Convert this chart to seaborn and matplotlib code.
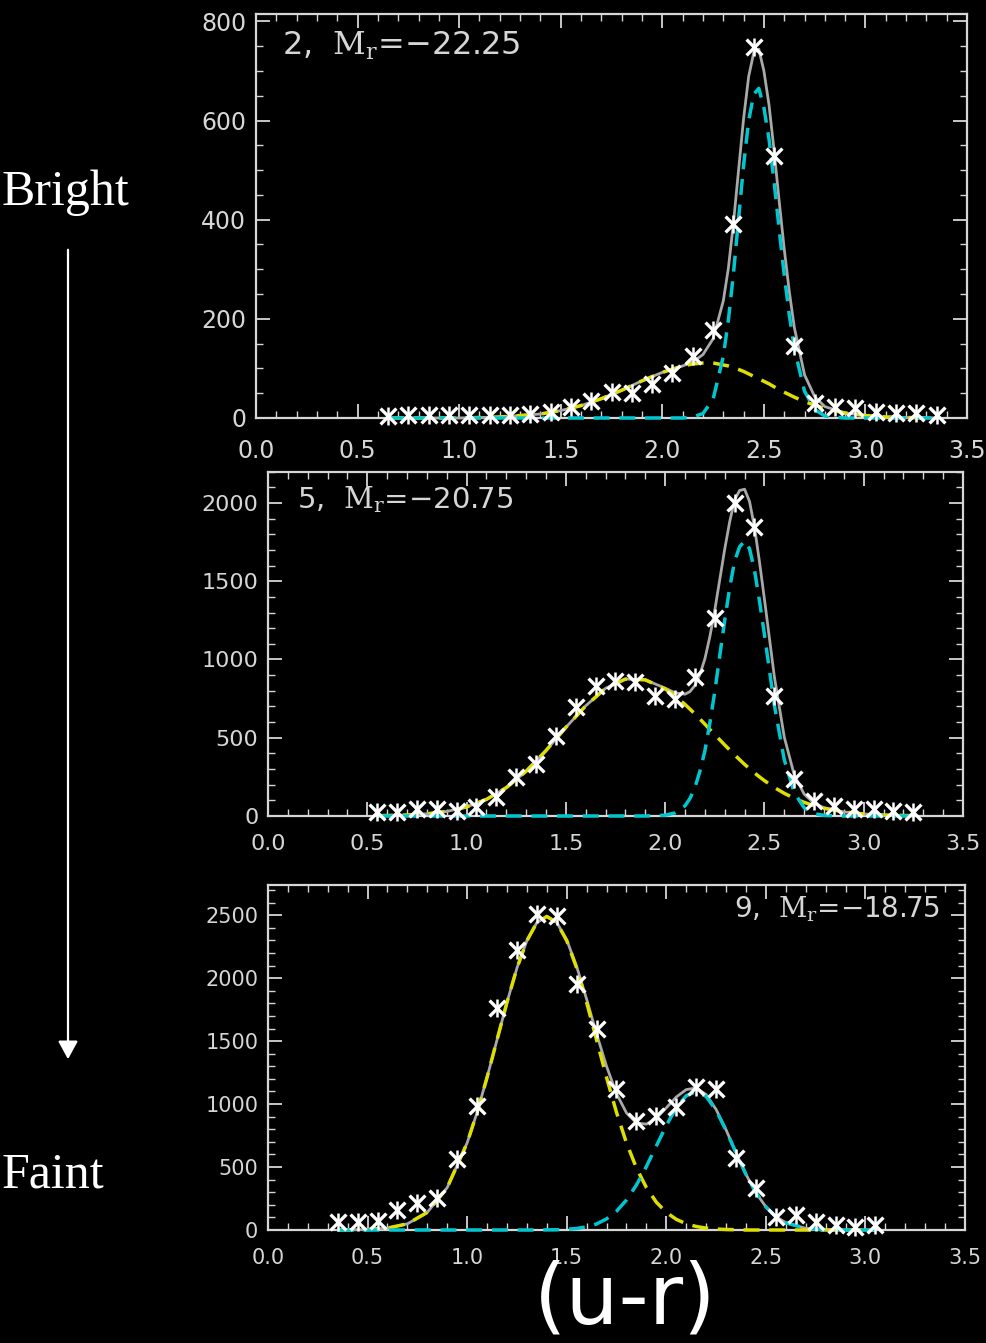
import matplotlib
matplotlib.use("Agg")
import matplotlib.pyplot as plt
import seaborn as sns
from matplotlib.ticker import MultipleLocator, FormatStrFormatter
from matplotlib.patches import FancyArrowPatch

# ---------------- data ----------------
# Panel 1 : 2, Mr = -22.25
x_top_pts = [0.65, 0.75, 0.85, 0.95, 1.05, 1.15, 1.25, 1.35, 1.45, 1.55, 1.65, 1.75, 1.85, 1.95,
             2.05, 2.15, 2.25, 2.35, 2.45, 2.55, 2.65, 2.75, 2.85, 2.95, 3.05, 3.15, 3.25, 3.35]
y_top_pts = [5, 6, 6, 6, 6, 6, 6, 8, 12, 22, 34, 53, 50, 69,
             91, 125, 178, 391, 748, 529, 145, 31, 23, 20, 13, 10, 10, 6]
x_top_fit = [0.65, 0.8, 1.0, 1.2, 1.4, 1.5, 1.6, 1.7, 1.8, 1.9, 2.0, 2.1, 2.15, 2.2, 2.25,
             2.3, 2.325, 2.35, 2.375, 2.4, 2.425, 2.45, 2.475, 2.5, 2.525, 2.55, 2.575, 2.6,
             2.625, 2.65, 2.7, 2.75, 2.8, 2.9, 3.0, 3.1, 3.2, 3.35]
gray_top = [0, 0, 0, 2, 8, 15, 25, 39, 56, 75, 92, 105, 113, 128, 160,
            236, 302, 393, 499, 604, 689, 737, 744, 700, 632, 540, 438, 341,
            255, 182, 87, 43, 23, 10, 5, 2, 1, 0]
yellow_top = [0, 0, 0, 2, 8, 15, 25, 39, 56, 75, 92, 105, 109, 111, 111,
              107, 105, 102, 98, 94, 89, 84, 79, 74, 69, 63, 57, 52,
              47, 42, 33, 26, 19, 10, 5, 2, 1, 0]
cyan_top = [0, 0, 0, 0, 0, 0, 0, 0, 0, 0, 0, 0, 2, 9, 38,
            124, 197, 291, 401, 510, 600, 653, 665, 626, 563, 477, 381, 289,
            208, 140, 54, 17, 4, 0, 0, 0, 0, 0]

# Panel 2 : 5, Mr = -20.75
x_mid_pts = [0.55, 0.65, 0.75, 0.85, 0.95, 1.05, 1.15, 1.25, 1.35, 1.45, 1.55, 1.65, 1.75, 1.85,
             1.95, 2.05, 2.15, 2.25, 2.35, 2.45, 2.55, 2.65, 2.75, 2.85, 2.95, 3.05, 3.15, 3.25]
y_mid_pts = [25, 25, 45, 45, 32, 57, 121, 248, 331, 510, 694, 828, 860, 854,
             764, 745, 885, 1268, 2000, 1847, 765, 236, 96, 64, 45, 45, 32, 25]
x_mid_fit = [0.55, 0.7, 0.8, 0.9, 1.0, 1.1, 1.2, 1.3, 1.4, 1.5, 1.6, 1.7, 1.8, 1.9, 2.0,
             2.05, 2.1, 2.125, 2.15, 2.175, 2.2, 2.225, 2.25, 2.275, 2.3, 2.325, 2.35, 2.375,
             2.4, 2.425, 2.45, 2.475, 2.5, 2.55, 2.6, 2.65,
             2.7, 2.75, 2.8, 2.9, 3.0, 3.1, 3.25]
gray_mid = [2, 6, 14, 29, 58, 106, 181, 286, 418, 566, 704, 816, 875, 870, 817,
            787, 778, 795, 834, 905, 1003, 1145, 1315, 1510, 1705, 1880, 2020, 2080,
            2088, 2010, 1845, 1625, 1386, 890, 504, 263,
            140, 81, 53, 26, 13, 6, 2]
yellow_mid = [2, 6, 14, 29, 58, 106, 181, 286, 418, 566, 704, 816, 875, 870, 812,
              767, 713, 683, 652, 620, 587, 553, 520, 487, 454, 422, 390, 360,
              330, 302, 275, 250, 226, 182, 145, 113,
              87, 66, 49, 26, 13, 6, 2]
cyan_mid = [0, 0, 0, 0, 0, 0, 0, 0, 0, 0, 0, 0, 0, 0, 5,
            20, 65, 112, 182, 285, 416, 592, 795, 1023, 1251, 1458, 1630, 1720,
            1758, 1708, 1570, 1375, 1160, 708, 359, 150,
            53, 15, 4, 0, 0, 0, 0]

# Panel 3 : 9, Mr = -18.75
x_bot_pts = [0.35, 0.45, 0.55, 0.65, 0.75, 0.85, 0.95, 1.05, 1.15, 1.25, 1.35, 1.45, 1.55, 1.65,
             1.75, 1.85, 1.95, 2.05, 2.15, 2.25, 2.35, 2.45, 2.55, 2.65, 2.75, 2.85, 2.95, 3.05]
y_bot_pts = [60, 60, 75, 160, 215, 255, 560, 985, 1760, 2220, 2510, 2490, 1955, 1600,
             1120, 865, 905, 975, 1135, 1120, 575, 335, 105, 120, 65, 40, 25, 40]
x_bot_fit = [0.35, 0.5, 0.6, 0.7, 0.8, 0.9, 1.0, 1.05, 1.1, 1.15, 1.2, 1.25, 1.3, 1.35, 1.4,
             1.45, 1.5, 1.55, 1.6, 1.65, 1.7, 1.75, 1.8, 1.85, 1.9, 1.95, 2.0, 2.05, 2.1,
             2.15, 2.2, 2.25, 2.3, 2.35, 2.4, 2.45, 2.5, 2.55, 2.6, 2.7, 2.8, 2.9, 3.05]
gray_bot = [0, 4, 15, 49, 140, 337, 692, 934, 1212, 1510, 1808, 2080, 2298, 2441, 2491,
            2443, 2304, 2092, 1833, 1558, 1300, 1083, 930, 850, 841, 888, 970, 1056, 1115,
            1128, 1076, 958, 796, 615, 442, 296, 184, 107, 58, 13, 2, 0, 0]
yellow_bot = [0, 4, 15, 49, 140, 337, 692, 934, 1212, 1510, 1808, 2080, 2298, 2441, 2490,
              2441, 2298, 2080, 1808, 1510, 1212, 934, 692, 493, 337, 221, 140, 85, 49,
              28, 15, 8, 4, 2, 0, 0, 0, 0, 0, 0, 0, 0, 0]
cyan_bot = [0, 0, 0, 0, 0, 0, 0, 0, 0, 0, 0, 0, 0, 0, 1,
            2, 6, 12, 25, 48, 88, 149, 238, 357, 504, 667, 830, 971, 1066,
            1100, 1061, 950, 792, 613, 442, 296, 184, 107, 58, 13, 2, 0, 0]

panel_labels = ["2,  $\\mathrm{M_r}$=\u221222.25", "5,  $\\mathrm{M_r}$=\u221220.75",
                "9,  $\\mathrm{M_r}$=\u221218.75"]

# ---------------- style ----------------
sns.set_style("ticks")
plt.rcParams["font.family"] = ["DejaVu Sans"]
plt.rcParams["mathtext.fontset"] = "dejavuserif"

BG = "black"
FG = "#d6d6d6"
GRAY = "#a9a9a9"
YEL = "#dede00"
CYAN = "#00c6d0"

fig = plt.figure(figsize=(9.87, 13.43), dpi=100, facecolor=BG)

panels = [
    dict(rect=[0.2594, 0.68876, 0.7204, 0.30082], xf=x_top_fit, g=gray_top, yl=yellow_top, c=cyan_top,
         xp=x_top_pts, yp=y_top_pts, ymax=815, major=200, minor=50, lab=panel_labels[0],
         lx=0.0366, ly=0.8985, ha="left", tfs=17, lfs=23, xpad=15),
    dict(rect=[0.27153, 0.39241, 0.70415, 0.25637], xf=x_mid_fit, g=gray_mid, yl=yellow_mid, c=cyan_mid,
         xp=x_mid_pts, yp=y_mid_pts, ymax=2200, major=500, minor=100, lab=panel_labels[1],
         lx=0.0417, ly=0.8946, ha="left", tfs=16, lfs=21, xpad=13),
    dict(rect=[0.27153, 0.08414, 0.70618, 0.25689], xf=x_bot_fit, g=gray_bot, yl=yellow_bot, c=cyan_bot,
         xp=x_bot_pts, yp=y_bot_pts, ymax=2740, major=500, minor=100, lab=panel_labels[2],
         lx=0.964, ly=0.907, ha="right", tfs=15, lfs=20, xpad=13),
]

dash = (0, (4.6, 2.8))
for p in panels:
    ax = fig.add_axes(p["rect"])
    ax.set_facecolor(BG)
    sns.lineplot(x=p["xf"], y=p["g"], ax=ax, color=GRAY, lw=2.0, estimator=None, sort=False,
                 zorder=3, clip_on=False)
    sns.lineplot(x=p["xf"], y=p["yl"], ax=ax, color=YEL, lw=2.5, linestyle=dash, estimator=None,
                 sort=False, zorder=3.2, clip_on=False)
    sns.lineplot(x=p["xf"], y=p["c"], ax=ax, color=CYAN, lw=2.5, linestyle=dash, estimator=None,
                 sort=False, zorder=3.4, clip_on=False)
    sns.scatterplot(x=p["xp"], y=p["yp"], ax=ax, marker="x", s=130, color="white", linewidth=2.4,
                    zorder=5, clip_on=False)
    sns.scatterplot(x=p["xp"], y=p["yp"], ax=ax, marker="|", s=160, color="white", linewidth=1.8,
                    zorder=5, clip_on=False)

    ax.set_xlim(0, 3.5)
    ax.set_ylim(0, p["ymax"])
    ax.xaxis.set_major_locator(MultipleLocator(0.5))
    ax.xaxis.set_minor_locator(MultipleLocator(0.1))
    ax.yaxis.set_major_locator(MultipleLocator(p["major"]))
    ax.yaxis.set_minor_locator(MultipleLocator(p["minor"]))
    ax.xaxis.set_major_formatter(FormatStrFormatter("%.1f"))
    ax.yaxis.set_major_formatter(FormatStrFormatter("%d"))
    ax.tick_params(which="both", direction="in", top=True, right=True, color=FG, labelcolor=FG)
    ax.tick_params(which="major", length=10, width=1.3, labelsize=p["tfs"])
    ax.tick_params(which="minor", length=5, width=1.0)
    ax.tick_params(axis="x", which="major", pad=p["xpad"])
    ax.tick_params(axis="y", which="major", pad=7)
    for s in ax.spines.values():
        s.set_visible(True)
        s.set_color(FG)
        s.set_linewidth(1.6)
    ax.grid(False)
    ax.set_xlabel("")
    ax.set_ylabel("")
    ax.text(p["lx"], p["ly"], p["lab"], transform=ax.transAxes, ha=p["ha"], va="baseline",
            fontsize=p["lfs"], color=FG)

# left-side annotations
fig.text(0.002, 1 - 205 / 1343, "Bright", family="Liberation Serif", fontsize=36, color="white",
         va="baseline", ha="left")
fig.text(0.002, 1 - 1188 / 1343, "Faint", family="Liberation Serif", fontsize=36, color="white",
         va="baseline", ha="left")
arrow = FancyArrowPatch((0.0689, 1 - 247 / 1343), (0.0689, 1 - 1062 / 1343), transform=fig.transFigure,
                        arrowstyle="-|>,head_length=0.55,head_width=0.3", mutation_scale=20,
                        color="white", lw=1.6)
fig.add_artist(arrow)

fig.text(0.6332, 1 - 1323 / 1343, "(u-r)", ha="center", va="baseline", fontsize=60, color="white",
         family="DejaVu Sans")

fig.savefig("out.png", dpi=100, facecolor=BG)
